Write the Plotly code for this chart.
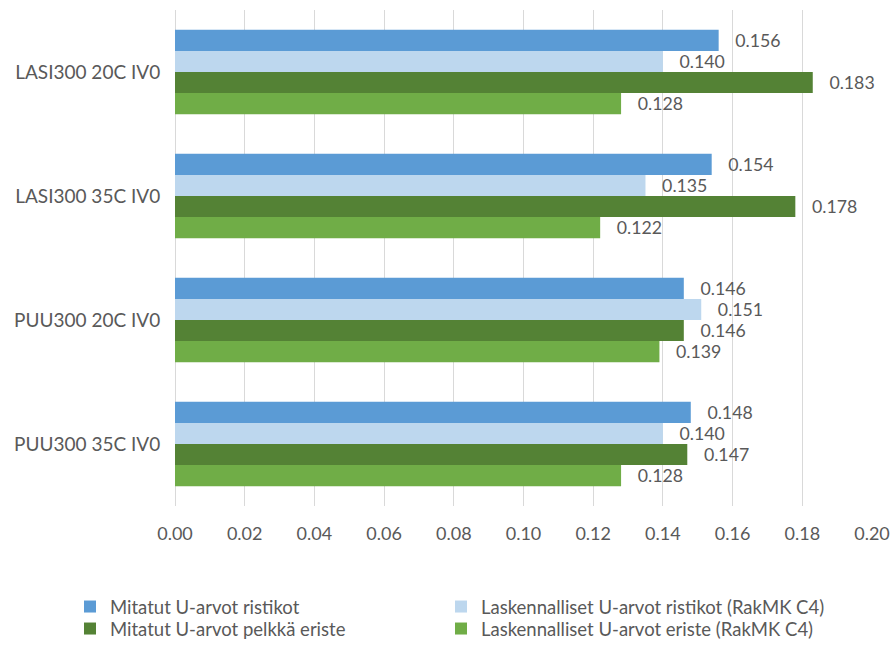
import plotly.graph_objects as go

categories = ["LASI300 20C IV0", "LASI300 35C IV0", "PUU300 20C IV0", "PUU300 35C IV0"]
series_names = [
    "Mitatut U-arvot ristikot",
    "Laskennalliset U-arvot ristikot (RakMK C4)",
    "Mitatut U-arvot pelkkä eriste",
    "Laskennalliset U-arvot eriste (RakMK C4)",
]
mitatut_ristikot = [0.156, 0.154, 0.146, 0.148]
lask_ristikot = [0.140, 0.135, 0.151, 0.140]
mitatut_eriste = [0.183, 0.178, 0.146, 0.147]
lask_eriste = [0.128, 0.122, 0.139, 0.128]
series_values = [mitatut_ristikot, lask_ristikot, mitatut_eriste, lask_eriste]
colors = ["#5B9BD5", "#BDD7EE", "#548235", "#70AD47"]
x_ticks = [0.00, 0.02, 0.04, 0.06, 0.08, 0.10, 0.12, 0.14, 0.16, 0.18, 0.20]

FONT = "Lato, Open Sans, sans-serif"
TXT = "#595959"

legend_ids = ["legend", "legend2", "legend3", "legend4"]
legend_pos = [(70, 588), (441, 588), (70, 610), (441, 610)]

fig = go.Figure()
for name, vals, col, lg in zip(series_names, series_values, colors, legend_ids):
    fig.add_trace(go.Bar(
        y=categories, x=vals, name=name, orientation="h",
        marker=dict(color=col, line=dict(width=0)),
        text=[f"\u00a0\u00a0\u00a0{v:.3f}" for v in vals],
        textposition="outside", cliponaxis=False,
        textfont=dict(family=FONT, size=18.5, color=TXT),
        hoverinfo="x+name", legend=lg, showlegend=True,
    ))

legend_common = dict(
    orientation="v", xref="container", yref="container",
    xanchor="left", yanchor="top",
    font=dict(family=FONT, size=18.5, color=TXT),
    traceorder="normal", bgcolor="rgba(0,0,0,0)",
    itemwidth=30, tracegroupgap=0,
)

legends = {}
for lg, (px, py) in zip(legend_ids, legend_pos):
    legends[lg] = dict(x=px / 896, y=1 - py / 645, **legend_common)

fig.update_layout(
    width=896, height=645, showlegend=True,
    margin=dict(l=175, r=24, t=10, b=139, autoexpand=False),
    plot_bgcolor="white", paper_bgcolor="white",
    barmode="group", bargap=0.32, bargroupgap=0,
    font=dict(family=FONT, size=18, color=TXT),
    xaxis=dict(
        range=[0, 0.20], tickvals=x_ticks, tickformat=".2f",
        showgrid=True, gridcolor="#D9D9D9", gridwidth=1,
        zeroline=True, zerolinecolor="#D9D9D9", zerolinewidth=1,
        ticks="outside", ticklen=11, tickcolor="rgba(0,0,0,0)",
        tickfont=dict(family=FONT, size=18, color=TXT),
        showline=False,
    ),
    yaxis=dict(
        autorange="reversed", showgrid=False,
        ticks="outside", ticklen=10, tickcolor="rgba(0,0,0,0)",
        tickfont=dict(family=FONT, size=19, color=TXT),
        showline=False,
    ),
    **legends,
)

fig.write_html("out.html")
